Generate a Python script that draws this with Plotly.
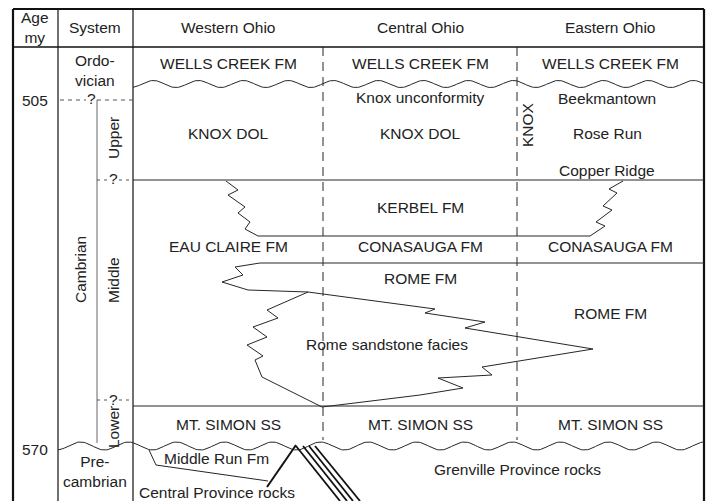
import numpy as np
import plotly.graph_objects as go

W, H = 710, 501
INK = "#262626"
FONT = "Liberation Sans, Arial, sans-serif"
FS = 15.5

# ---- column / row geometry of the correlation chart (chart units) ----
frame_left, frame_right, frame_top, frame_bottom = 13, 704, 9, 501
header_bottom = 47
col_age_sys = 58
col_sys_west = 133
col_sub = 97
dash_cols = [323, 517]

# horizontal boundaries
knox_base_y = 180          # base of Knox / top of Kerbel
mtsimon_top_y = 406
upper_wave_y = 84
lower_wave_y = 446

# ---- text labels ----
labels = [
    ("Age<br>my", 35, 27), ("System", 95, 27), ("Western Ohio", 228, 27),
    ("Central Ohio", 420, 27), ("Eastern Ohio", 610, 27),
    ("Ordo-<br>vician", 95, 70), ("505", 35, 100), ("570", 35, 449),
    ("Pre-<br>cambrian", 95, 471),
    ("WELLS CREEK FM", 228, 63), ("WELLS CREEK FM", 420, 63), ("WELLS CREEK FM", 610, 63),
    ("Knox unconformity", 420, 97), ("Beekmantown", 607, 98),
    ("KNOX DOL", 228, 133), ("KNOX DOL", 420, 133), ("Rose Run", 607, 133),
    ("Copper Ridge", 607, 170), ("KERBEL FM", 420, 207),
    ("EAU CLAIRE FM", 228, 246), ("CONASAUGA FM", 420, 246), ("CONASAUGA FM", 610, 246),
    ("ROME FM", 420, 278), ("ROME FM", 610, 313),
    ("Rome sandstone facies", 387, 344),
    ("MT. SIMON SS", 228, 424), ("MT. SIMON SS", 420, 424), ("MT. SIMON SS", 610, 424),
    ("Middle Run Fm", 216, 458), ("Grenville Province rocks", 517, 469),
    ("Central Province rocks", 217, 492),
]
rot_labels = [("Upper", 113, 138), ("Cambrian", 80, 270), ("Middle", 113, 280),
              ("Lower", 113, 427), ("KNOX", 527, 125)]
question_marks = [(91, 98), (113, 178), (113, 399)]

# ---- facies boundary polylines ----
kerbel_west_x = [226, 238, 228, 245, 238, 250, 245, 258, 590]
kerbel_west_y = [181, 190, 195, 207, 213, 222, 229, 236, 236]
kerbel_east_x = [590, 605, 596, 612, 603, 617, 609, 623]
kerbel_east_y = [236, 226, 222, 210, 206, 193, 189, 181]
rome_top_x = [704, 260, 235, 243, 222, 248, 308]
rome_top_y = [263, 263, 267, 275, 282, 290, 292]
sand_left_x = [308, 267, 278, 253, 267, 247, 263, 255, 262, 322]
sand_left_y = [292, 310, 318, 327, 337, 345, 356, 360, 377, 407]
sand_right_x = [308, 435, 425, 485, 465, 593, 482, 492, 438, 463, 420, 322]
sand_right_y = [292, 309, 313, 322, 328, 349, 367, 375, 378, 388, 395, 407]
middle_run_x = [149, 156, 268]
middle_run_y = [450, 465, 481]
central_prov_x = [267, 296]
central_prov_y = [487, 445]
grenville_start_x = [296, 303, 309, 315]
grenville_end_x = [340, 347, 353, 360]
grenville_y = [446, 501]

fig = go.Figure()


def line(xs, ys, color=INK, width=1.0, dash="solid"):
    fig.add_trace(go.Scatter(x=xs, y=ys, mode="lines", hoverinfo="skip",
                             line=dict(color=color, width=width, dash=dash),
                             showlegend=False))


def wave(x0, x1, yc, amp, period, phase):
    xs = np.linspace(x0, x1, 400)
    ys = yc + amp * np.cos(2 * np.pi * (xs - x0) / period + phase)
    line(xs, ys, width=1.0)


# frame
line([frame_left, frame_left], [frame_bottom, frame_top], color="#111", width=2.2)
line([frame_left, frame_right], [frame_top, frame_top], color="#111", width=2.2)
line([frame_right, frame_right], [frame_top, frame_bottom], color="#111", width=2.2)
line([frame_left, frame_right], [header_bottom, header_bottom], color="#111", width=1.3)
line([col_age_sys, col_age_sys], [frame_top, frame_bottom], color="#111", width=1.2)
line([col_sys_west, col_sys_west], [frame_top, frame_bottom], color="#111", width=1.2)

# sub-system column
line([col_sub, col_sub], [100, 443], color="#666", width=1.0)
line([col_age_sys + 2, 86], [100, 100], color="#555", width=1.0, dash="4px,4px")
line([col_sub, col_sys_west], [100, 100], color="#555", width=1.0, dash="4px,4px")
for yq in (180, 400):
    line([col_sub, 108], [yq, yq], color="#555", width=1.0, dash="3px,4px")
    line([119, col_sys_west], [yq, yq], color="#555", width=1.0, dash="3px,4px")

# dashed geographic columns
for xc in dash_cols:
    line([xc, xc], [header_bottom, 440], color=INK, width=1.0, dash="9px,6px")

# horizontal boundaries
line([col_sys_west, frame_right], [knox_base_y, knox_base_y])
line([col_sys_west, frame_right], [mtsimon_top_y, mtsimon_top_y])

# unconformities
wave(col_sys_west, frame_right, upper_wave_y, 3.5, 45, 0.3)
wave(col_age_sys, frame_right, lower_wave_y, 4.0, 48, 0.2)

# facies boundaries
line(kerbel_west_x, kerbel_west_y)
line(kerbel_east_x, kerbel_east_y)
line(rome_top_x, rome_top_y)
line(sand_left_x, sand_left_y)
line(sand_right_x, sand_right_y)
line(middle_run_x, middle_run_y)
line(central_prov_x, central_prov_y, color="#111", width=2.0)
for xs, xe in zip(grenville_start_x, grenville_end_x):
    line([xs, xe], grenville_y, color="#111", width=1.8)

# text
for txt, x, y in labels:
    fig.add_annotation(x=x, y=y, text=txt, showarrow=False, xanchor="center",
                       yanchor="middle", font=dict(family=FONT, size=FS, color="#222"))
for txt, x, y in rot_labels:
    fig.add_annotation(x=x, y=y, text=txt, showarrow=False, textangle=-90,
                       xanchor="center", yanchor="middle",
                       font=dict(family=FONT, size=FS, color="#222"))
for x, y in question_marks:
    fig.add_annotation(x=x, y=y, text="?", showarrow=False, xanchor="center",
                       yanchor="middle", font=dict(family=FONT, size=FS, color="#222"))

fig.update_layout(
    width=W, height=H, margin=dict(l=0, r=0, t=0, b=0),
    paper_bgcolor="white", plot_bgcolor="white",
    xaxis=dict(range=[0, W], visible=False, fixedrange=True),
    yaxis=dict(range=[H, 0], visible=False, fixedrange=True),
)
fig.write_html("out.html", config={"displayModeBar": False},
               post_script="document.body.style.margin='0px';"
                           "document.body.style.overflow='hidden';")
